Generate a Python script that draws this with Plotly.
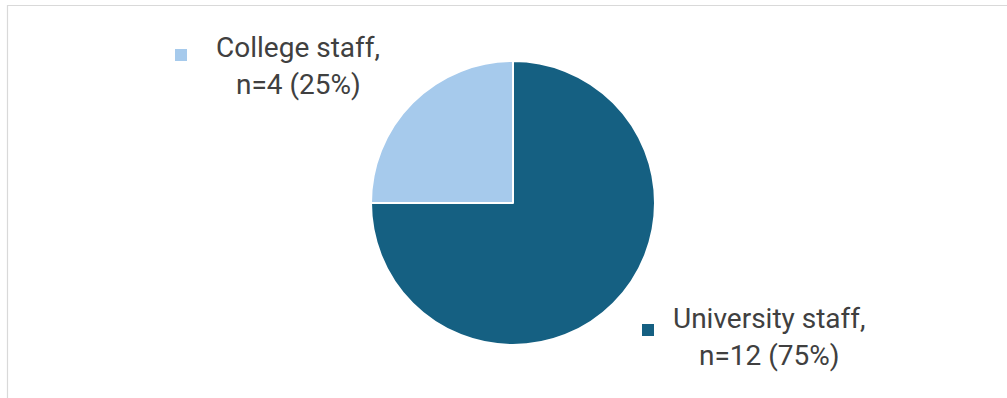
import plotly.graph_objects as go

W, H = 1007, 398

# Data
categories = ["College staff", "University staff"]
counts = [4, 12]
percents = [25, 75]
colors = ["#A6CAEC", "#156082"]

# Label layout (pixels from top-left): marker center, text center x, line centers y
label_pos = {
    "College staff": dict(marker=(181, 55), tx=298, ty=(48, 85)),
    "University staff": dict(marker=(648, 330), tx=769, ty=(318, 355)),
}

cx, cy, r = 513, 203, 142

fig = go.Figure()
fig.add_trace(go.Pie(
    labels=categories,
    values=counts,
    sort=False,
    direction="clockwise",
    rotation=-90,
    marker=dict(colors=colors, line=dict(color="white", width=2)),
    textinfo="none",
    hoverinfo="label+value+percent",
    showlegend=False,
    domain=dict(x=[(cx - r) / W, (cx + r) / W], y=[1 - (cy + r) / H, 1 - (cy - r) / H]),
))

annotations = []
shapes = []
font = dict(family="Roboto, Open Sans, sans-serif", size=28, color="#404040")
for cat, n, p, col in zip(categories, counts, percents, colors):
    lp = label_pos[cat]
    lines = [f"{cat},", f"n={n} ({p}%)"]
    for line, ly in zip(lines, lp["ty"]):
        annotations.append(dict(
            text=line, x=lp["tx"] / W, y=1 - ly / H, xref="paper", yref="paper",
            xanchor="center", yanchor="middle", showarrow=False, font=font,
        ))
    mx, my = lp["marker"]
    s = 6
    shapes.append(dict(
        type="rect", xref="paper", yref="paper",
        x0=(mx - s) / W, x1=(mx + s) / W, y0=1 - (my + s) / H, y1=1 - (my - s) / H,
        fillcolor=col, line=dict(width=0),
    ))

# Chart frame (top and left edges visible)
shapes.append(dict(type="line", xref="paper", yref="paper",
                   x0=7 / W, x1=1.0, y0=1 - 5.5 / H, y1=1 - 5.5 / H,
                   line=dict(color="#d9d9d9", width=1.2)))
shapes.append(dict(type="line", xref="paper", yref="paper",
                   x0=7.5 / W, x1=7.5 / W, y0=0, y1=1 - 5 / H,
                   line=dict(color="#d9d9d9", width=1.2)))

fig.update_layout(
    width=W, height=H,
    margin=dict(l=0, r=0, t=0, b=0),
    paper_bgcolor="white",
    plot_bgcolor="white",
    annotations=annotations,
    shapes=shapes,
)

fig.write_html("out.html")
